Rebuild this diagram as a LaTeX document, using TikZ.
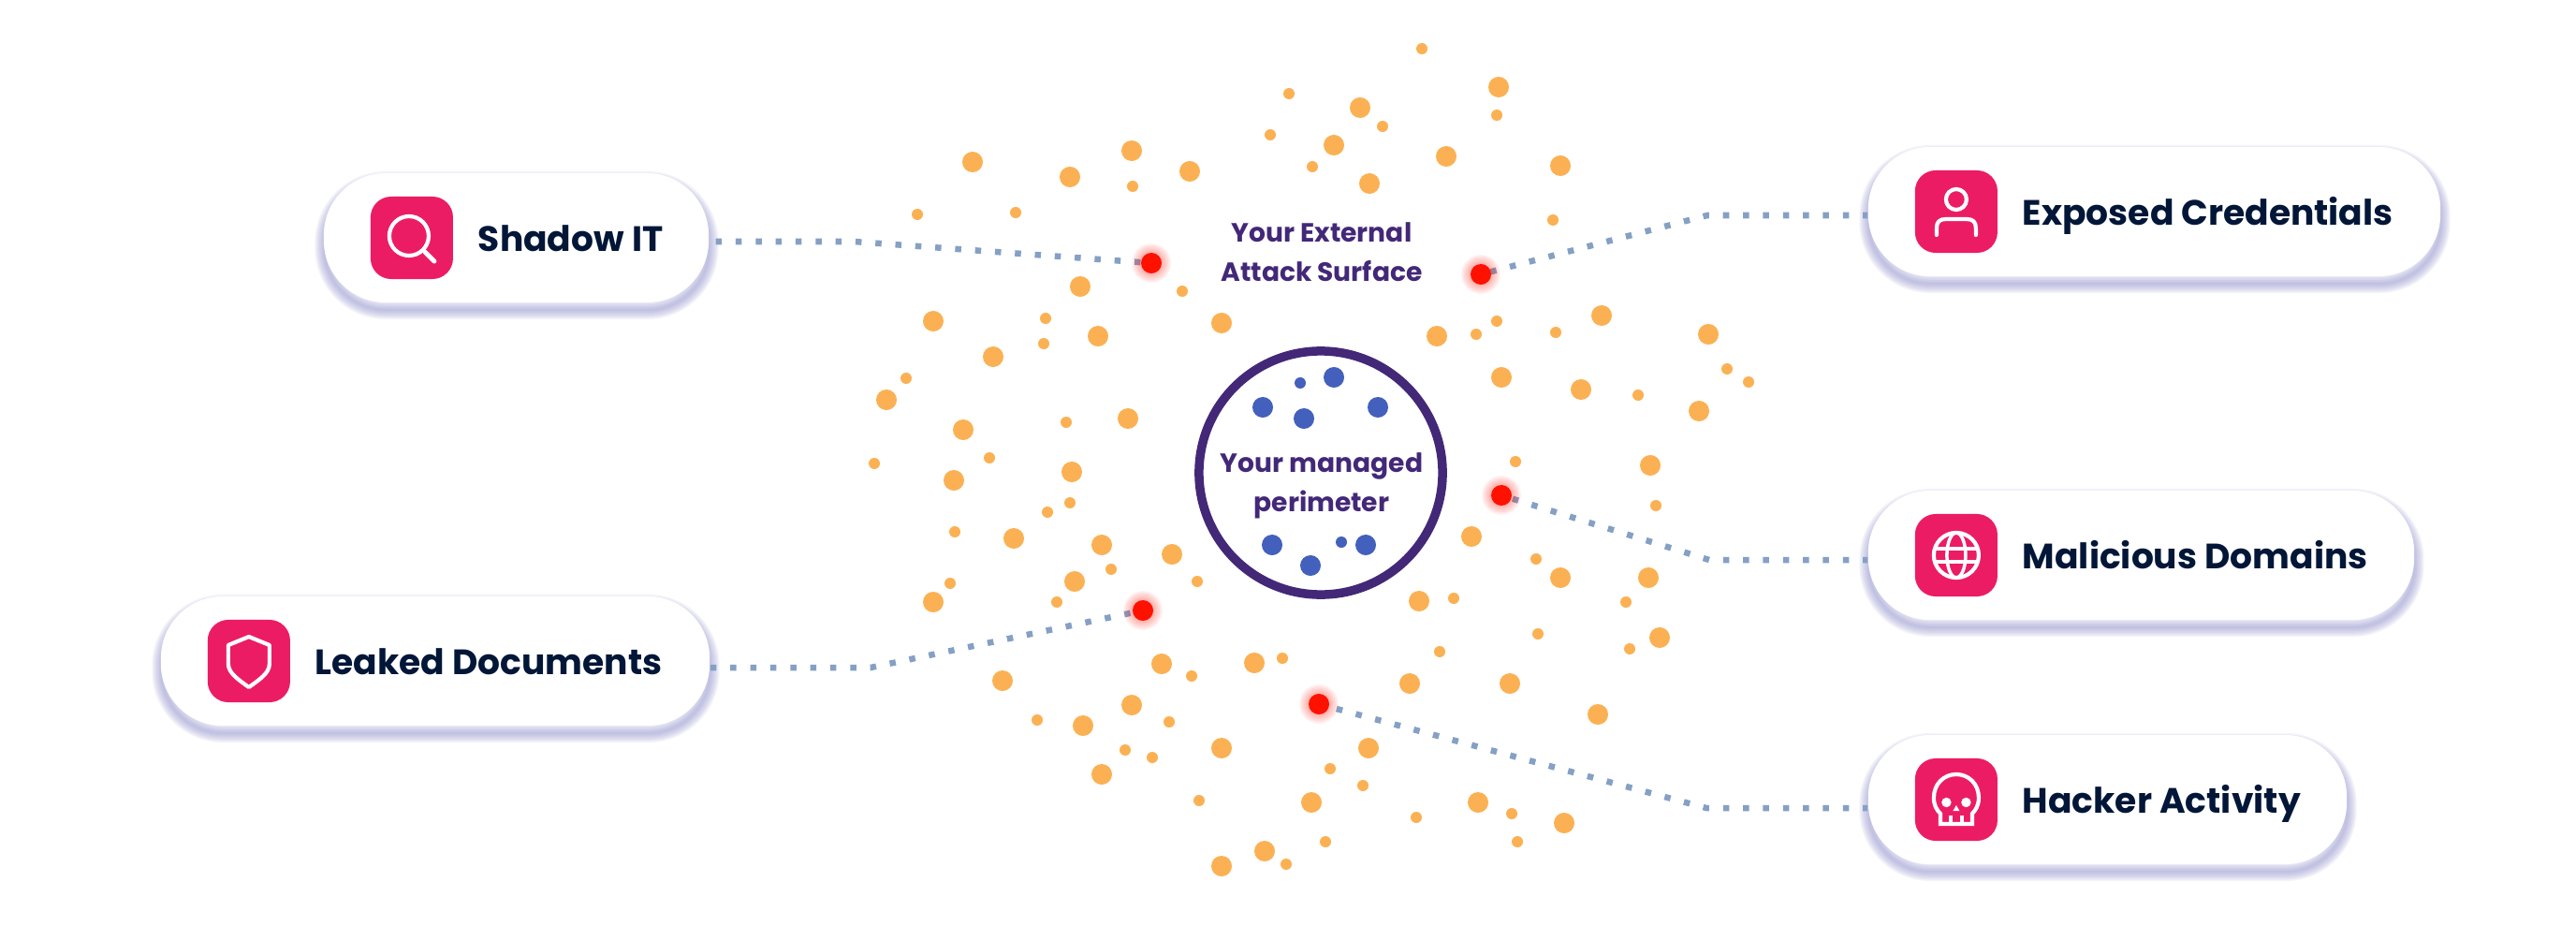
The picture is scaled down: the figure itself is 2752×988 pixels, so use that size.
\documentclass[tikz,border=0pt]{standalone}
\usepackage{fontspec}
\setmainfont{Poppins}
\usetikzlibrary{positioning}

\definecolor{navy}{RGB}{2, 22, 56}
\definecolor{violet}{RGB}{67, 40, 120}
\definecolor{rose}{RGB}{236, 28, 100}
\definecolor{amber}{RGB}{251, 177, 83}
\definecolor{cobalt}{RGB}{67, 96, 188}
\definecolor{hitred}{RGB}{255, 17, 0}
\definecolor{linkblue}{RGB}{133, 160, 196}
\definecolor{lavender}{RGB}{150, 150, 208}

\begin{document}
\begin{tikzpicture}[
  x=0.01cm, y=-0.01cm,
  halo/.style={preaction={draw=lavender, draw opacity=0.11, line width=#1,
                          transform canvas={yshift=-0.08cm, xshift=0.005cm}}},
  pill/.style={rectangle, fill=white, rounded corners=0.66cm, minimum height=1.38cm,
               halo=0.20cm, halo=0.17cm, halo=0.14cm, halo=0.11cm, halo=0.08cm, halo=0.05cm, halo=0.02cm},
  iconbox/.style={rectangle, fill=rose, rounded corners=0.22cm, minimum size=0.88cm, inner sep=0pt},
  pilltext/.style={inner sep=0pt, text height=0.38cm, text depth=0.10cm, text=navy,
                   font=\fontsize{10.7pt}{13pt}\bfseries\selectfont},
  zonetext/.style={inner sep=0pt, align=center, text=violet,
                   font=\fontsize{8pt}{11.8pt}\bfseries\selectfont},
  perim/.style={circle, draw=violet, line width=0.095cm, minimum size=2.6cm, inner sep=0pt},
  hit/.style={circle, fill=hitred, minimum size=0.22cm, inner sep=0pt},
  link/.style={linkblue, line width=0.065cm, dash pattern=on 0.065cm off 0.1483cm},
  ico/.style={white, line width=0.042cm, line cap=round, line join=round},
]

\useasboundingbox (0,0) rectangle (2752,988);
\fill[white] (0,0) rectangle (2752,988);

% scattered surface dots
\foreach \x/\y in {1039/173,1143/189,1209/161,1271/183,1154/306,997/343,1173/359,1061/381,
    1305/345,947/427,1205/447,1029/459,1145/504,1019/513,1083/575,1177/582,1252/592,1148/621,
    997/643,1071/727,1241/709,1340/708,1209/753,1157/775,1305/799,1177/827,1401/857,1351/909,
    1305/925,1572/573,1763/497,1667/617,1761/617,1516/642,1773/681,1506/730,1613/730,1707/763,
    1462/799,1579/857,1671/879,1601/93,1453/115,1425/155,1545/167,1463/196,1667/177,1711/337,
    1535/359,1825/357,1604/403,1689/416,1815/439}
  \fill[amber] (\x,\y) circle (0.11cm);
\foreach \x/\y in {980/229,1085/227,1210/199,1263/311,1117/340,1115/367,968/404,1139/451,934/495,
    1057/489,1119/547,1143/537,1020/568,1187/608,1279/621,1015/623,1129/643,1273/722,1370/703,
    1108/769,1249/771,1202/801,1231/809,1281/855,1374/923,1416/899,1421/821,1619/493,1769/540,
    1641/597,1553/639,1737/643,1643/677,1741/693,1538/696,1456/839,1513/873,1615/869,1621/899,
    1519/52,1599/123,1477/135,1402/178,1659/235,1599/343,1577/357,1662/355,1845/394,1868/408,
    1750/422,1377/100,1357/144}
  \fill[amber] (\x,\y) circle (0.06cm);

% inside the perimeter
\foreach \x/\y in {1349/435,1425/403,1472/435,1393/447,1359/582,1459/582,1400/604}
  \fill[cobalt] (\x,\y) circle (0.11cm);
\foreach \x/\y in {1389/409,1433/579}
  \fill[cobalt] (\x,\y) circle (0.06cm);

\node[perim] (core) at (1411,505) {};
\node[zonetext] (corelabel) at (1412,519) {Your managed\\perimeter};
\node[zonetext] (zonelabel) at (1412,269) {Your External\\Attack Surface};

% exposure points
\coordinate (hitshadow) at (1230,281);
\coordinate (hitcreds) at (1582,293);
\coordinate (hitdomains) at (1604,529);
\coordinate (hitleaks) at (1221,652);
\coordinate (hithacker) at (1409,752);

% bends of the dotted links
\coordinate (bendshadow) at (912,258);
\coordinate (bendcreds) at (1824,230);
\coordinate (benddomains) at (1826,598);
\coordinate (bendleaks) at (930,713);
\coordinate (bendhacker) at (1823,863);

% pills
\node[pill, minimum width=4.11cm] (shadow) at (551.5,254) {};
\node[pill, minimum width=6.11cm] (creds) at (2301.5,226) {};
\node[pill, minimum width=5.83cm] (domains) at (2287.5,593) {};
\node[pill, minimum width=5.11cm] (hacker) at (2251.5,854) {};
\node[pill, minimum width=5.86cm] (leaks) at (465,706) {};

\draw[link, dash phase=0.146cm] (shadow.east |- bendshadow) -- (bendshadow) -- (hitshadow);
\draw[link, dash phase=0.015cm] (creds.west |- bendcreds) -- (bendcreds) -- (hitcreds);
\draw[link, dash phase=0.015cm] (domains.west |- benddomains) -- (benddomains) -- (hitdomains);
\draw[link, dash phase=0.015cm] (hacker.west |- bendhacker) -- (bendhacker) -- (hithacker);
\draw[link] (leaks.east |- bendleaks) -- (bendleaks) -- (hitleaks);

% glow and red dot on top of the link ends
\foreach \p in {hitshadow,hitcreds,hitdomains,hitleaks,hithacker} {
  \foreach \g in {0.21,0.195,...,0.12}
    \fill[hitred, opacity=0.05] (\p) circle (\g cm);
}
\node[hit] (dotshadow) at (hitshadow) {};
\node[hit] (dotcreds) at (hitcreds) {};
\node[hit] (dotdomains) at (hitdomains) {};
\node[hit] (dotleaks) at (hitleaks) {};
\node[hit] (dothacker) at (hithacker) {};

% icon tiles and labels
\node[iconbox, right=0.5cm of shadow.west] (icshadow) {};
\node[pilltext, right=0.255cm of icshadow] (txshadow) {Shadow IT};
\node[iconbox, right=0.5cm of creds.west] (iccreds) {};
\node[pilltext, right=0.255cm of iccreds] (txcreds) {Exposed Credentials};
\node[iconbox, right=0.5cm of domains.west] (icdomains) {};
\node[pilltext, right=0.255cm of icdomains] (txdomains) {Malicious Domains};
\node[iconbox, right=0.5cm of hacker.west] (ichacker) {};
\node[pilltext, right=0.255cm of ichacker] (txhacker) {Hacker Activity};
\node[iconbox, right=0.5cm of leaks.west] (icleaks) {};
\node[pilltext, right=0.255cm of icleaks] (txleaks) {Leaked Documents};

% magnifier
\begin{scope}[shift={(icshadow.center)}]
  \draw[ico] (-3,-2) circle (0.21cm);
  \draw[ico, line width=0.05cm] (14,15) -- (24,25);
\end{scope}

% person
\begin{scope}[shift={(iccreds.center)}]
  \draw[ico] (0,-13) circle (0.11cm);
  \draw[ico] (-21,25) -- (-21,18) .. controls (-21,11) and (-18,8) .. (-11,8) -- (11,8)
    .. controls (18,8) and (21,11) .. (21,18) -- (21,25);
\end{scope}

% globe
\begin{scope}[shift={(icdomains.center)}]
  \draw[ico] (0,0) circle (0.24cm);
  \draw[ico, line width=0.035cm] (0,0) ellipse (0.1cm and 0.24cm);
  \draw[ico, line width=0.035cm] (-22,-7) -- (22,-7);
  \draw[ico, line width=0.035cm] (-22,7) -- (22,7);
\end{scope}

% skull
\begin{scope}[shift={(ichacker.center)}]
  \draw[ico, line cap=butt, line join=miter] (-17,26) -- (-17,15) .. controls (-21,11) and (-24,6) .. (-24,-2)
    .. controls (-24,-17) and (-13,-27) .. (0,-27) .. controls (13,-27) and (24,-17) .. (24,-2)
    .. controls (24,6) and (21,11) .. (17,15) -- (17,26) -- cycle;
  \draw[ico, line cap=butt, line width=0.035cm] (-6,17) -- (-6,26);
  \draw[ico, line cap=butt, line width=0.035cm] (6,17) -- (6,26);
  \fill[white] (-10.5,3) circle (0.052cm);
  \fill[white] (10.5,3) circle (0.052cm);
  \fill[white] (0,6) -- (3.5,12) -- (-3.5,12) -- cycle;
\end{scope}

% shield
\begin{scope}[shift={(icleaks.center)}]
  \draw[ico] (0,-26) -- (22,-17) -- (22,3) .. controls (22,13) and (11,20) .. (0,28)
    .. controls (-11,20) and (-22,13) .. (-22,3) -- (-22,-17) -- cycle;
\end{scope}

\end{tikzpicture}
\end{document}
